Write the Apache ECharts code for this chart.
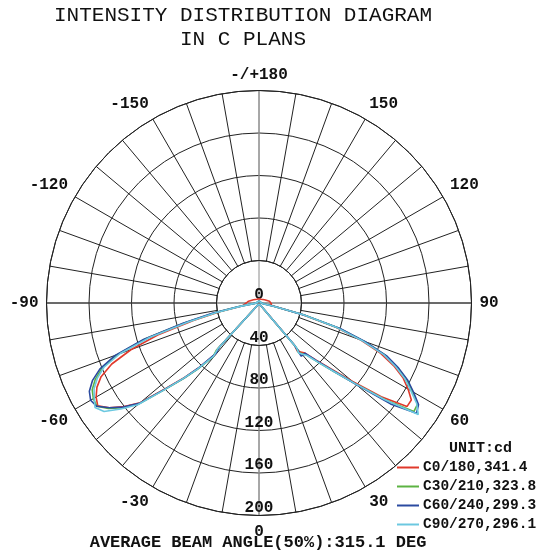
<!DOCTYPE html>
<html><head><meta charset="utf-8">
<script src="https://cdn.jsdelivr.net/npm/echarts@6/dist/echarts.min.js"></script>
<style>html,body{margin:0;padding:0;background:#fff}#c{width:542px;height:553px}</style>
</head><body><div id="c"></div><script>
// Angles in degrees (0 = nadir, + to the right, -/+180 = zenith); the small loops near +/-40 follow the traced curve
const angleDeg = [-180,-150,-120,-100,-90,-85,-80,-77.5,-75,-72.5,-70,-67.5,-65,-62.5,-60,-57.5,-55,-52.5,-50,-47.5,-45,-43,-40.5,-42,-37.5,-30,-20,-10,0,10,20,30,37.5,40,38.5,42.5,45,47.5,50,52.5,55,57.5,60,62.5,65,67.5,70,72.5,75,77.5,80,85,90,100,120,150,180];
const seriesNames = ['C0/180,341.4','C30/210,323.8','C60/240,299.3','C90/270,296.1'];
const seriesColors = ['#e0392b','#5cb342','#2b4aa0','#6cc8e0'];
const c0  = [4,4,6,10, 12,12,16,38,64,100,128,150,164,172,177,180,172,160,146,119,99,84,64,58,5, 2,1,1,1,1,1,2, 4,52,58,64,76,92,115,145,170,170,162,153,140,124,102,76,42,16,10,12,12, 10,6,4,4];
const c30 = [2,2,2,2, 3,4,19,43,72,112,142,160,170,177,180,181,173,162,148,121,101,86,67,60,5, 2,1,1,1,1,1,2, 4,54,60,66,79,95,118,150,178,177,167,157,144,129,105,79,44,15,4,3,3, 2,2,2,2];
const c60 = [2,2,2,2, 3,4,20,45,74,114,144,162,173,180,183,181,172,161,147,120,100,84,62,55,5, 2,1,1,1,1,1,2, 4,52,64,64,77,94,119,156,181,178,168,158,145,130,106,80,45,16,4,3,3, 2,2,2,2];
const c90 = [2,2,2,2, 3,4,17,41,69,108,139,158,168,175,179,183,178,164,149,121,100,85,66,58,5, 2,1,1,1,1,1,2, 4,55,60,67,79,95,118,150,183,176,165,155,142,127,103,77,43,15,4,3,3, 2,2,2,2];
const angleTicks = [0,30,60,90,120,150,180];
const radialTicks = [0,40,80,120,160,200];
const titleLines = ['INTENSITY DISTRIBUTION DIAGRAM','IN C PLANS'];
const footer = 'AVERAGE BEAM ANGLE(50%):315.1 DEG';
const unitText = 'UNIT:cd';

const FONT = 'Liberation Mono';
const toAxis = a => (a < 0 ? a + 360 : a);
const mk = arr => arr.map((v, i) => [v, toAxis(angleDeg[i])]);
const allSeries = [c0, c30, c60, c90];

const chart = echarts.init(document.getElementById('c'), null, {renderer: 'canvas'});
const CX = 259, CY = 303, R = 212.5;
const rStep = radialTicks[1] - radialTicks[0];
const rMax = radialTicks[radialTicks.length - 1];
const spokeColors = ['#8a8a8a'].concat(new Array(17).fill('#222'));

chart.setOption({
  animation: false,
  backgroundColor: '#fff',
  title: [
    {text: titleLines[0], left: 243 - titleLines[0].length * 0.6 * 21 / 2, top: 5, padding: 0,
     textStyle: {fontFamily: FONT, fontWeight: 'normal', fontSize: 21, color: '#111'}},
    {text: titleLines[1], left: 243 - titleLines[1].length * 0.6 * 21 / 2, top: 29, padding: 0,
     textStyle: {fontFamily: FONT, fontWeight: 'normal', fontSize: 21, color: '#111'}},
    {text: footer, left: 258 - footer.length * 0.6 * 17 / 2, top: 534, padding: 0,
     textStyle: {fontFamily: FONT, fontWeight: 'bold', fontSize: 17, color: '#111'}},
    {text: unitText, left: 449, top: 441, padding: 0,
     textStyle: {fontFamily: FONT, fontWeight: 'bold', fontSize: 15, color: '#111'}}
  ],
  legend: {
    orient: 'vertical', left: 397, top: 460, padding: 0, itemGap: 4,
    itemWidth: 22, itemHeight: 2, icon: 'rect',
    data: seriesNames,
    textStyle: {fontFamily: FONT, fontWeight: 'bold', fontSize: 14.5, color: '#111', padding: [0, 0, 0, -1]}
  },
  polar: [
    {center: [CX, CY], radius: [R * (rStep / rMax), R]},
    {center: [CX, CY], radius: [0, R]}
  ],
  angleAxis: [
    {polarIndex: 0, type: 'value', min: 0, max: 360, interval: 10, startAngle: 270, clockwise: false,
     axisLine: {show: true, lineStyle: {color: '#222', width: 1}},
     axisTick: {show: false},
     splitLine: {show: true, lineStyle: {color: spokeColors, width: 1}},
     axisLabel: {show: true, margin: 8, fontFamily: FONT, fontWeight: 'bold', fontSize: 16, color: '#111',
       formatter: v => {
         if (v >= 360) return '';
         const a = v > 180 ? v - 360 : v;
         if (angleTicks.indexOf(Math.abs(a)) < 0) return '';
         return a === 180 ? '-/+180' : String(a);
       }}},
    {polarIndex: 1, type: 'value', min: 0, max: 360, interval: 90, startAngle: 270, clockwise: false,
     axisLine: {show: false}, axisTick: {show: false}, axisLabel: {show: false},
     splitLine: {show: true, lineStyle: {color: ['#8a8a8a', '#444'], width: 1}}}
  ],
  radiusAxis: [
    {polarIndex: 0, type: 'value', min: rStep, max: rMax, interval: rStep,
     axisLine: {show: false}, axisTick: {show: false}, axisLabel: {show: false},
     splitLine: {show: true, lineStyle: {color: '#222', width: 1}}},
    {polarIndex: 1, type: 'value', min: 0, max: rMax, interval: rStep,
     axisLine: {show: false}, axisTick: {show: false}, splitLine: {show: false},
     axisLabel: {show: true, margin: 0, align: 'center', verticalAlign: 'bottom',
       fontFamily: FONT, fontWeight: 'bold', fontSize: 16, color: '#111'}}
  ],
  series: allSeries.map((arr, i) => ({
    name: seriesNames[i], type: 'line', coordinateSystem: 'polar', polarIndex: 1,
    data: mk(arr), symbol: 'none', smooth: false,
    lineStyle: {color: seriesColors[i], width: 1.6},
    itemStyle: {color: seriesColors[i]}
  }))
});
</script></body></html>
